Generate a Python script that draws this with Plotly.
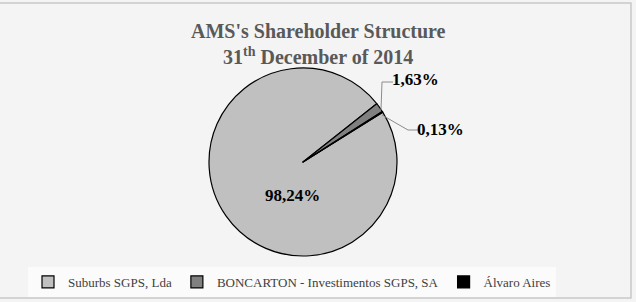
import plotly.graph_objects as go

# ---- data ----
holders = ["Suburbs SGPS, Lda", "BONCARTON - Investimentos SGPS, SA", "Álvaro Aires"]
shares = [98.24, 1.63, 0.13]
slice_colors = ["#c0c0c0", "#808080", "#000000"]

title_line1 = "AMS's Shareholder Structure"
title_line2 = "31<sup>th</sup> December of 2014"

W, H = 636, 302


def px_x(x):
    return x / W


def px_y(y):
    return 1 - y / H


def fmt(v):
    return f"{v:.2f}".replace(".", ",") + "%"


cx, cy, r = 303, 162, 94

fig = go.Figure()
fig.add_trace(go.Pie(
    labels=holders,
    values=shares,
    sort=False,
    direction="clockwise",
    rotation=58,
    marker=dict(colors=slice_colors, line=dict(color="#000000", width=1.2)),
    textinfo="none",
    hoverinfo="label+percent",
    domain=dict(x=[px_x(cx - r), px_x(cx + r)], y=[px_y(cy + r), px_y(cy - r)]),
))

serif = "Liberation Serif, Times New Roman, serif"

# title lines
for txt, ty in [(title_line1, 31), (title_line2, 56)]:
    fig.add_annotation(
        x=0.5, y=px_y(ty), xref="paper", yref="paper",
        text=f"<b>{txt}</b>", showarrow=False,
        font=dict(family=serif, size=20, color="#595959"),
        xanchor="center", yanchor="middle",
    )

# value labels
label_pos = [(292, 195), (415, 79), (440, 129)]
for v, (lx, ly) in zip(shares, label_pos):
    fig.add_annotation(
        x=px_x(lx), y=px_y(ly), xref="paper", yref="paper",
        text=f"<b>{fmt(v)}</b>", showarrow=False,
        font=dict(family=serif, size=17, color="#000000"),
        xanchor="center", yanchor="middle",
    )

# leader lines
leader_paths = [
    [(381, 110), (382, 82), (393, 82)],
    [(382, 115), (408, 130), (418, 130)],
]
for pts in leader_paths:
    path = "M " + " L ".join(f"{px_x(x)},{px_y(y)}" for x, y in pts)
    fig.add_shape(type="path", path=path, xref="paper", yref="paper",
                  line=dict(color="#8c8c8c", width=1))

# frame
fig.add_shape(type="rect", xref="paper", yref="paper",
              x0=px_x(-5), x1=px_x(631), y0=px_y(298), y1=px_y(3),
              line=dict(color="#c8c8c8", width=1.5), layer="below")

fig.update_layout(
    width=W, height=H,
    margin=dict(l=0, r=0, t=0, b=0),
    paper_bgcolor="#f4f4f4",
    plot_bgcolor="#f4f4f4",
    showlegend=True,
    legend=dict(
        orientation="h", x=px_x(28), xanchor="left", y=px_y(282), yanchor="middle",
        font=dict(family=serif, size=13, color="#404040"),
        bgcolor="#fbfbfb", itemwidth=30, tracegroupgap=0,
        traceorder="normal",
    ),
)

fig.write_html("out.html")
